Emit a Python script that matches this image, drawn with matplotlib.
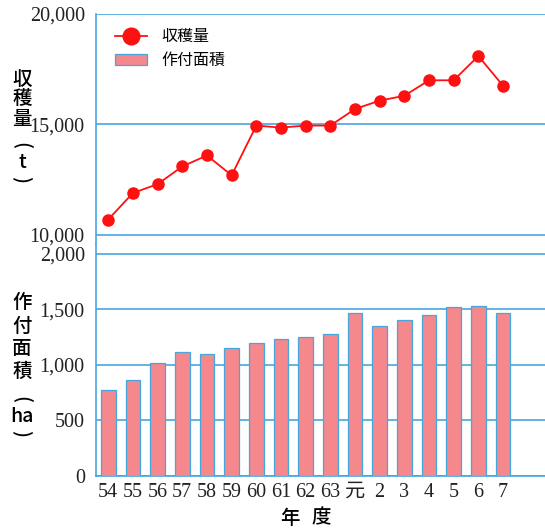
import matplotlib.pyplot as plt
from matplotlib.lines import Line2D
from matplotlib.patches import Patch

# 年度と値
years = ['54', '55', '56', '57', '58', '59', '60', '61', '62', '63',
         '元', '2', '3', '4', '5', '6', '7']
harvest = [10700, 11900, 12300, 13100, 13600, 12700, 14950, 14860, 14950,
           14950, 15700, 16080, 16300, 17000, 17000, 18100, 16750]
area = [775, 865, 1015, 1115, 1100, 1150, 1200, 1235, 1250, 1282,
        1468, 1348, 1402, 1450, 1520, 1535, 1468]

blue = '#45a6e0'
pink = '#f4888c'
serif = ['Liberation Serif', 'Noto Sans CJK JP']
cjk = ['Noto Sans CJK JP', 'DejaVu Sans']

fig = plt.figure(figsize=(5.45, 5.30), dpi=100)
ax1 = fig.add_axes([0.176, 0.5396, 0.824, 0.434])
ax2 = fig.add_axes([0.176, 0.1019, 0.824, 0.4377])

x = list(range(len(years)))

# 上段：収穫量
ax1.plot(x, harvest, color='#ff1010', lw=1.3, marker='o', ms=8, zorder=3)
ax1.set_ylim(9591, 20000)
ax1.set_yticks([10000, 15000, 20000])
ax1.set_yticklabels(['10,000', '15,000', '20,000'], family=serif, fontsize=14.5)
ax1.set_xticks([])

# 下段：作付面積
ax2.bar(x, area, width=0.6, color=pink, edgecolor=blue, linewidth=0.9, zorder=3)
ax2.set_ylim(0, 2090)
ax2.set_yticks([0, 500, 1000, 1500, 2000])
ax2.set_yticklabels(['0', '500', '1,000', '1,500', '2,000'], family=serif, fontsize=14.5)
ax2.set_xticks(x)
ax2.set_xticklabels(years, family=serif, fontsize=14.5)

for ax in (ax1, ax2):
    ax.set_xlim(-0.5, 17.7)
    ax.grid(axis='y', color=blue, lw=1.2, zorder=1)
    ax.tick_params(length=0, colors='#222222', pad=8)
    for s in ('top', 'right'):
        ax.spines[s].set_visible(False)
    ax.spines['left'].set_color(blue)
    ax.spines['left'].set_linewidth(1.2)
ax1.spines['bottom'].set_visible(False)
ax2.spines['bottom'].set_color(blue)
ax2.spines['bottom'].set_linewidth(1.2)
ax2.tick_params(axis='x', pad=5)

# 凡例
handles = [Line2D([0], [0], color='#ff1010', lw=1.3, marker='o', ms=12),
           Patch(facecolor=pink, edgecolor=blue, linewidth=0.9)]
ax1.legend(handles, ['収穫量', '作付面積'], loc='upper left',
           bbox_to_anchor=(0.01, 1.0), frameon=False,
           prop={'family': cjk, 'size': 11.5}, handlelength=2.0,
           handletextpad=0.9, labelspacing=0.4)

# 縦書きの軸ラベル
W, H = 545, 530


def vtext(ch, yy, rot=0):
    fig.text(22 / W, 1 - yy / H, ch, ha='center', va='center', family=cjk,
             fontsize=14, fontweight='medium', rotation=rot)


for ch, yy in zip(['収', '穫', '量'], [79, 99, 120]):
    vtext(ch, yy)
vtext('(', 146, -90)
vtext('t', 163)
vtext(')', 180, -90)

for ch, yy in zip(['作', '付', '面', '積'], [303, 326, 348, 371]):
    vtext(ch, yy)
vtext('(', 400, -90)
vtext('ha', 416)
vtext(')', 433, -90)

fig.text(290 / W, 1 - 518 / H, '年', ha='center', va='center', family=cjk,
         fontsize=14, fontweight='medium')
fig.text(321 / W, 1 - 518 / H, '度', ha='center', va='center', family=cjk,
         fontsize=14, fontweight='medium')

plt.savefig('out.png', dpi=100)
